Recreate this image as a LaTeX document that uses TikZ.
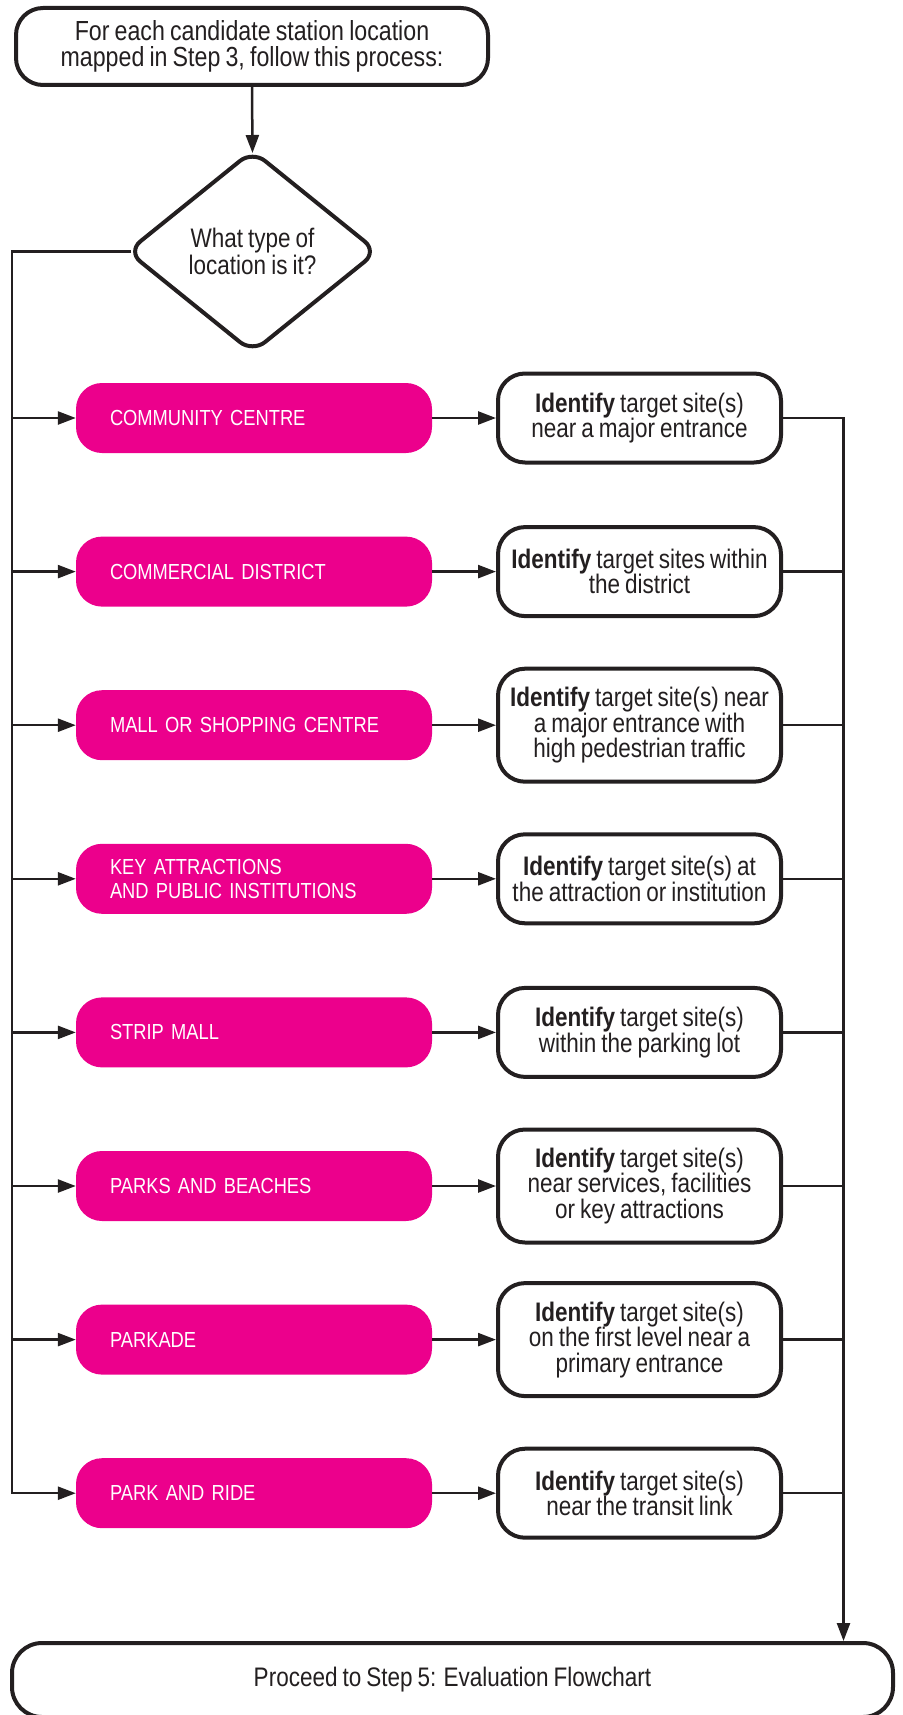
\documentclass[tikz,border=0pt]{standalone}
\usepackage{fontspec}
\setmainfont{Liberation Sans}[FakeStretch=0.84, WordSpace=0.8]
\usetikzlibrary{arrows.meta,shapes.geometric}
\definecolor{ink}{HTML}{231F20}
\definecolor{brandpink}{HTML}{EC008C}
\begin{document}
\begin{tikzpicture}[x=1pt,y=-1pt,
  every node/.style={text=ink},
  outlinebox/.style={draw=ink, line width=4pt, fill=white, rounded corners=27pt,
    align=center, inner sep=0pt, font=\fontsize{26.8}{25.5}\selectfont},
  startbox/.style={outlinebox, minimum width=472pt, minimum height=77pt,
    font=\fontsize{27.6}{26.5}\selectfont},
  sitebox/.style={outlinebox, minimum width=283pt, minimum height=89pt},
  sitebox3/.style={sitebox, minimum height=113pt},
  endbox/.style={outlinebox, rounded corners=30pt, minimum width=881pt, minimum height=74pt},
  question/.style={diamond, draw=ink, line width=4pt, rounded corners=16pt,
    minimum width=251pt, minimum height=203pt, inner sep=0pt, align=center,
    font=\fontsize{26.8}{27}\selectfont},
  typebox/.style={fill=brandpink, rounded corners=26pt, minimum height=70pt,
    text width=288pt, inner xsep=34pt, inner ysep=0pt, align=left,
    text=white, font=\fontsize{21.8}{24}\selectfont},
  conn/.style={draw=ink, line width=2.5pt},
  arr/.style={conn, -{Triangle[length=18pt,width=13pt]}}
]
\useasboundingbox (0,0) rectangle (902,1715);

% start and decision
\node[startbox] (start) at (252,46.5) {For each candidate station location\\mapped in Step 3, follow this process:};
\node[question] (dia) at (252.5,251.5) {What type of\\location is it?};

% location types
\node[typebox] (p1) at (254,418)    {COMMUNITY CENTRE};
\node[typebox] (p2) at (254,571.6)  {COMMERCIAL DISTRICT};
\node[typebox] (p3) at (254,725.2)  {MALL OR SHOPPING CENTRE};
\node[typebox] (p4) at (254,878.8)  {KEY ATTRACTIONS\\AND PUBLIC INSTITUTIONS};
\node[typebox] (p5) at (254,1032.4) {STRIP MALL};
\node[typebox] (p6) at (254,1186)   {PARKS AND BEACHES};
\node[typebox] (p7) at (254,1339.6) {PARKADE};
\node[typebox] (p8) at (254,1493.2) {PARK AND RIDE};

% target site actions
\node[sitebox]  (w1) at (639.5,418)    {\textbf{Identify} target site(s)\\near a major entrance};
\node[sitebox]  (w2) at (639.5,571.6)  {\textbf{Identify} target sites within\\the district};
\node[sitebox3] (w3) at (639.5,725.2)  {\textbf{Identify} target site(s) near\\a major entrance with\\high pedestrian traffic};
\node[sitebox]  (w4) at (639.5,878.8)  {\textbf{Identify} target site(s) at\\the attraction or institution};
\node[sitebox]  (w5) at (639.5,1032.4) {\textbf{Identify} target site(s)\\within the parking lot};
\node[sitebox3] (w6) at (639.5,1186)   {\textbf{Identify} target site(s)\\near services, facilities\\or key attractions};
\node[sitebox3] (w7) at (639.5,1339.6) {\textbf{Identify} target site(s)\\on the first level near a\\primary entrance};
\node[sitebox]  (w8) at (639.5,1493.2) {\textbf{Identify} target site(s)\\near the transit link};

% final step
\node[endbox] (bot) at (452.5,1680) {Proceed to Step 5: Evaluation Flowchart};

% rails
\coordinate (lx) at (12,0);
\coordinate (rx) at (843.5,0);

% connectors
\draw[arr] (start.south) -- ([yshift=-5pt]dia.north);
\draw[arr] ([xshift=6pt]dia.west) -| (lx |- p8.west) -- (p8.west);
\foreach \i in {1,...,7} {
  \draw[arr] (lx |- p\i.west) -- (p\i.west);
}
\foreach \i in {1,...,8} {
  \draw[arr] (p\i.east) -- (w\i.west);
}
\draw[arr] (w1.east) -- (rx |- w1.east) -- (rx |- bot.north);
\foreach \i in {2,...,8} {
  \draw[conn] (w\i.east) -- (rx |- w\i.east);
}
\end{tikzpicture}
\end{document}
